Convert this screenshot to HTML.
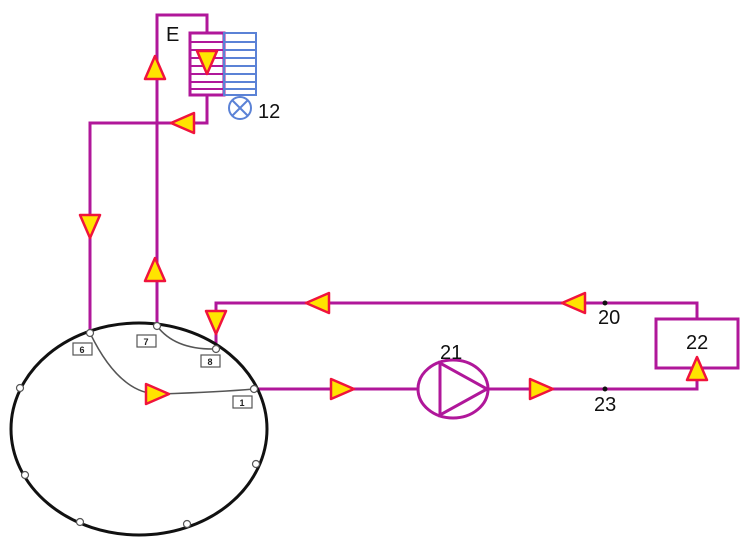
<!DOCTYPE html>
<html><head><style>body{margin:0;background:#fff}</style></head><body>
<svg width="750" height="546" viewBox="0 0 750 546" xmlns="http://www.w3.org/2000/svg" font-family="Liberation Sans, sans-serif">
<defs>
<polygon id="ar" points="-11,-10 -11,10 12,0" fill="#ffe400" stroke="#f0143c" stroke-width="2.5" stroke-linejoin="round"/>
</defs>
<g fill="none" stroke="#b0179a" stroke-width="3">
<polyline points="90,333 90,123 207,123 207,95"/>
<polyline points="157,326 157,15 207,15 207,33"/>
<polyline points="216,349 216,303 697,303 697,319"/>
<rect x="656" y="319" width="82" height="49"/>
<polyline points="697,368 697,389 254,389"/>
<rect x="190" y="33" width="34" height="62"/>
<g stroke-width="2"><line x1="190" y1="42" x2="224" y2="42"/><line x1="190" y1="50" x2="224" y2="50"/><line x1="190" y1="58" x2="224" y2="58"/><line x1="190" y1="66" x2="224" y2="66"/><line x1="190" y1="74" x2="224" y2="74"/><line x1="190" y1="82" x2="224" y2="82"/><line x1="190" y1="89" x2="224" y2="89"/></g>
<ellipse cx="453" cy="389" rx="35" ry="29" fill="#fff"/>
<polygon points="440,363 440,415 487,389"/>
</g>
<g fill="none" stroke="#5b82d6" stroke-width="2">
<rect x="224" y="33" width="32" height="62"/>
<line x1="224" y1="42" x2="256" y2="42"/><line x1="224" y1="50" x2="256" y2="50"/><line x1="224" y1="58" x2="256" y2="58"/><line x1="224" y1="66" x2="256" y2="66"/><line x1="224" y1="74" x2="256" y2="74"/><line x1="224" y1="82" x2="256" y2="82"/><line x1="224" y1="89" x2="256" y2="89"/>
<circle cx="240" cy="108" r="11"/>
<line x1="232" y1="100" x2="248" y2="116"/><line x1="248" y1="100" x2="232" y2="116"/>
</g>
<ellipse cx="139" cy="429" rx="128" ry="106" fill="none" stroke="#111" stroke-width="3"/>
<g fill="none" stroke="#555" stroke-width="1.5">
<path d="M90,333 Q120,395 160,394 Q220,392 254,389"/>
<path d="M157,326 Q175,350 216,349"/>
</g>
<g fill="#fff" stroke="#555" stroke-width="1.2">
<circle cx="90" cy="333" r="3.5"/><circle cx="157" cy="326" r="3.5"/><circle cx="216" cy="349" r="3.5"/><circle cx="254" cy="389" r="3.5"/>
<circle cx="20" cy="388" r="3.5"/><circle cx="25" cy="475" r="3.5"/><circle cx="80" cy="522" r="3.5"/><circle cx="187" cy="524" r="3.5"/><circle cx="256" cy="464" r="3.5"/>
<rect x="73" y="343" width="19" height="12"/><rect x="137" y="335" width="19" height="12"/><rect x="201" y="355" width="19" height="12"/><rect x="233" y="396" width="19" height="12"/>
</g>
<g font-size="9" text-anchor="middle" fill="#222" font-weight="bold">
<text x="82" y="353">6</text><text x="146" y="345">7</text><text x="210" y="365">8</text><text x="242" y="406">1</text>
</g>
<g fill="#111"><circle cx="605" cy="303" r="2.5"/><circle cx="605" cy="389" r="2.5"/></g>
<g font-size="20" fill="#111">
<text x="166" y="41">E</text><text x="258" y="118">12</text>
<text x="440" y="359">21</text><text x="686" y="349">22</text>
<text x="598" y="324">20</text><text x="594" y="411">23</text>
</g>
<use href="#ar" transform="translate(155,68) rotate(-90)"/>
<use href="#ar" transform="translate(207,62) rotate(90)"/>
<use href="#ar" transform="translate(183,123) rotate(180)"/>
<use href="#ar" transform="translate(90,226) rotate(90)"/>
<use href="#ar" transform="translate(155,270) rotate(-90)"/>
<use href="#ar" transform="translate(216,322) rotate(90)"/>
<use href="#ar" transform="translate(318,303) rotate(180)"/>
<use href="#ar" transform="translate(574,303) rotate(180)"/>
<use href="#ar" transform="translate(157,394)"/>
<use href="#ar" transform="translate(342,389)"/>
<use href="#ar" transform="translate(541,389)"/>
<use href="#ar" transform="translate(697,369) rotate(-90)"/>
</svg>
</body></html>
